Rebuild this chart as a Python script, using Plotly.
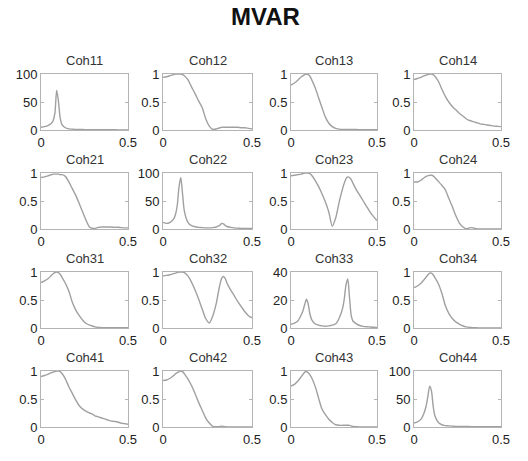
import plotly.graph_objects as go

# ---- data ----
freq = [0, 0.02, 0.04, 0.06, 0.07, 0.08, 0.09, 0.10, 0.11, 0.12, 0.14, 0.16, 0.18, 0.20,
        0.22, 0.24, 0.26, 0.28, 0.30, 0.31, 0.32, 0.33, 0.34, 0.35, 0.36, 0.38, 0.40,
        0.42, 0.44, 0.46, 0.48, 0.50]

coh11 = [5, 6, 8, 12, 17, 30, 71, 52, 22, 10, 4, 2, 1.5, 1, 1, 0.8, 0.7, 0.6, 0.5, 0.5,
         0.5, 0.5, 0.5, 0.5, 0.5, 0.4, 0.4, 0.4, 0.3, 0.3, 0.3, 0.3]
coh12 = [0.94, 0.95, 0.97, 0.99, 1.0, 1.0, 1.0, 1.0, 0.99, 0.97, 0.9, 0.77, 0.65, 0.52,
         0.4, 0.2, 0.07, 0.01, 0.02, 0.03, 0.04, 0.05, 0.05, 0.05, 0.05, 0.05, 0.05, 0.05,
         0.04, 0.04, 0.03, 0.02]
coh13 = [0.8, 0.84, 0.89, 0.95, 0.97, 0.99, 1.0, 0.99, 0.96, 0.9, 0.76, 0.58, 0.4, 0.23,
         0.12, 0.06, 0.03, 0.015, 0.01, 0.01, 0.01, 0.01, 0.01, 0.01, 0.01, 0.01, 0.005,
         0.005, 0.005, 0.005, 0.005, 0.005]
coh14 = [0.9, 0.92, 0.94, 0.97, 0.98, 0.99, 1.0, 1.0, 0.99, 0.96, 0.87, 0.73, 0.6, 0.5,
         0.42, 0.36, 0.3, 0.25, 0.2, 0.18, 0.17, 0.16, 0.15, 0.14, 0.13, 0.11, 0.1, 0.09,
         0.08, 0.07, 0.065, 0.06]
coh21 = [0.92, 0.93, 0.95, 0.97, 0.98, 0.98, 0.98, 0.98, 0.97, 0.97, 0.94, 0.84, 0.72,
         0.6, 0.45, 0.3, 0.15, 0.03, 0.01, 0.01, 0.02, 0.03, 0.03, 0.035, 0.035, 0.035,
         0.035, 0.03, 0.03, 0.025, 0.02, 0.02]
coh22 = [12, 10, 12, 18, 26, 42, 75, 92, 62, 32, 12, 6, 4, 3, 2.5, 2, 2, 2.5, 3.5, 5, 7,
         10, 9, 6, 4.5, 3, 2, 1.5, 1.2, 1, 1, 1]
coh23 = [0.95, 0.96, 0.97, 0.98, 0.99, 1.0, 1.0, 1.0, 0.99, 0.96, 0.87, 0.76, 0.63, 0.48,
         0.3, 0.05, 0.2, 0.48, 0.72, 0.82, 0.9, 0.93, 0.92, 0.88, 0.82, 0.7, 0.6, 0.5,
         0.4, 0.3, 0.22, 0.15]
coh24 = [0.84, 0.84, 0.87, 0.92, 0.94, 0.95, 0.96, 0.96, 0.95, 0.92, 0.85, 0.78, 0.7,
         0.55, 0.4, 0.24, 0.11, 0.04, 0.005, 0.01, 0.02, 0.025, 0.02, 0.01, 0.005, 0, 0,
         0, 0, 0, 0, 0]
coh31 = [0.81, 0.84, 0.88, 0.94, 0.97, 0.99, 1.0, 0.99, 0.96, 0.91, 0.8, 0.66, 0.46,
         0.32, 0.22, 0.14, 0.08, 0.05, 0.03, 0.02, 0.015, 0.01, 0.01, 0.005, 0.005,
         0.005, 0.005, 0.005, 0.005, 0.005, 0.005, 0.005]
coh32 = [0.93, 0.94, 0.95, 0.97, 0.98, 0.99, 1.0, 1.0, 1.0, 0.99, 0.93, 0.82, 0.68, 0.52,
         0.34, 0.17, 0.09, 0.22, 0.45, 0.62, 0.78, 0.89, 0.92, 0.88, 0.8, 0.68, 0.58,
         0.47, 0.38, 0.29, 0.22, 0.18]
coh33 = [2.7, 3.5, 5, 9.5, 12.5, 17, 20.5, 17, 10, 6, 3, 2, 1.5, 1.3, 1.5, 2, 3, 7, 14,
         21, 31, 35, 22, 9, 5, 3, 1.8, 1.2, 0.9, 0.7, 0.5, 0.4]
coh34 = [0.72, 0.75, 0.8, 0.87, 0.91, 0.95, 0.98, 0.98, 0.95, 0.9, 0.79, 0.62, 0.4, 0.26,
         0.17, 0.11, 0.07, 0.04, 0.02, 0.015, 0.01, 0.01, 0.005, 0.005, 0.005, 0, 0, 0,
         0, 0, 0, 0]
coh41 = [0.9, 0.92, 0.94, 0.97, 0.98, 0.99, 1.0, 1.0, 0.99, 0.96, 0.86, 0.72, 0.6, 0.48,
         0.38, 0.32, 0.28, 0.25, 0.22, 0.2, 0.19, 0.18, 0.17, 0.16, 0.15, 0.13, 0.11, 0.1,
         0.09, 0.07, 0.06, 0.05]
coh42 = [0.83, 0.84, 0.87, 0.92, 0.95, 0.97, 0.99, 1.0, 0.99, 0.95, 0.86, 0.74, 0.6,
         0.44, 0.3, 0.16, 0.07, 0.01, 0.005, 0.005, 0.01, 0.015, 0.01, 0.005, 0, 0, 0, 0,
         0, 0, 0, 0]
coh43 = [0.73, 0.76, 0.82, 0.9, 0.94, 0.98, 0.99, 0.97, 0.93, 0.88, 0.73, 0.52, 0.32,
         0.22, 0.14, 0.08, 0.04, 0.03, 0.03, 0.03, 0.03, 0.03, 0.03, 0.02, 0.01, 0.005, 0,
         0, 0, 0, 0, 0]
coh44 = [7, 9, 14, 27, 38, 55, 73, 65, 38, 20, 8, 4, 2.5, 2, 1.5, 1.2, 1, 1, 0.8, 0.8,
         0.8, 0.7, 0.7, 0.7, 0.7, 0.6, 0.6, 0.6, 0.5, 0.5, 0.5, 0.5]

series = [coh11, coh12, coh13, coh14, coh21, coh22, coh23, coh24,
          coh31, coh32, coh33, coh34, coh41, coh42, coh43, coh44]
titles = ["Coh11", "Coh12", "Coh13", "Coh14", "Coh21", "Coh22", "Coh23", "Coh24",
          "Coh31", "Coh32", "Coh33", "Coh34", "Coh41", "Coh42", "Coh43", "Coh44"]
y_max = [100, 1, 1, 1, 1, 100, 1, 1, 1, 1, 40, 1, 1, 1, 1, 100]
y_ticks = {100: ([0, 50, 100], ["0", "50", "100"]),
           40: ([0, 20, 40], ["0", "20", "40"]),
           1: ([0, 0.5, 1], ["0", "0.5", "1"])}
x_ticks = [0, 0.5]
x_ticktext = ["0", "0.5"]

# ---- layout ----
W, H = 528, 461
col_left = [41, 163, 291, 414]
col_w = [87, 89, 86, 87]
row_top = [74, 173, 272, 371]
row_h = 56

FONT = "Liberation Sans, Arial, sans-serif"
AX_COLOR = "#b4b4b4"
LINE_COLOR = "#a0a0a0"

fig = go.Figure()
annotations = []
layout = {}
for i, (ys, t, ym) in enumerate(zip(series, titles, y_max)):
    r, c = divmod(i, 4)
    n = i + 1
    xa = "x" if n == 1 else f"x{n}"
    ya = "y" if n == 1 else f"y{n}"
    fig.add_trace(go.Scatter(x=freq, y=ys, mode="lines", xaxis=xa, yaxis=ya,
                             line=dict(color=LINE_COLOR, width=1.4, shape="spline",
                                       smoothing=0.7),
                             showlegend=False, hoverinfo="skip"))
    x0 = col_left[c] / W
    x1 = (col_left[c] + col_w[c]) / W
    y1 = 1 - row_top[r] / H
    y0 = 1 - (row_top[r] + row_h) / H
    tv, tt = y_ticks[ym]
    layout["xaxis" if n == 1 else f"xaxis{n}"] = dict(
        domain=[x0, x1], anchor=ya, range=[0, 0.5], tickvals=x_ticks, ticktext=x_ticktext,
        showline=True, linecolor=AX_COLOR, linewidth=1, mirror="ticks", ticks="inside",
        ticklen=3, tickcolor=AX_COLOR, showgrid=False, zeroline=False, automargin=False,
        tickfont=dict(family=FONT, size=13, color="#222"), fixedrange=True)
    layout["yaxis" if n == 1 else f"yaxis{n}"] = dict(
        domain=[y0, y1], anchor=xa, range=[0, ym], tickvals=tv, ticktext=tt,
        showline=True, linecolor=AX_COLOR, linewidth=1, mirror="ticks", ticks="inside",
        ticklen=3, tickcolor=AX_COLOR, showgrid=False, zeroline=False, automargin=False,
        tickfont=dict(family=FONT, size=13, color="#222"), fixedrange=True)
    annotations.append(dict(text=t, x=(x0 + x1) / 2, y=1 - (row_top[r] - 14) / H,
                            xref="paper", yref="paper", showarrow=False,
                            xanchor="center", yanchor="middle",
                            font=dict(family=FONT, size=13, color="#333")))

annotations.append(dict(text="<b>MVAR</b>", x=265 / W, y=1 - 16 / H, xref="paper",
                        yref="paper", showarrow=False, xanchor="center", yanchor="middle",
                        font=dict(family=FONT, size=24, color="#111")))

fig.update_layout(template="none", width=W, height=H,
                  margin=dict(l=0, r=0, t=0, b=0, autoexpand=False),
                  paper_bgcolor="white", plot_bgcolor="white",
                  annotations=annotations, **layout)

fig.write_html("out.html", config={"displayModeBar": False},
               post_script="document.body.style.margin='0px';"
                           "document.body.style.overflow='hidden';")
